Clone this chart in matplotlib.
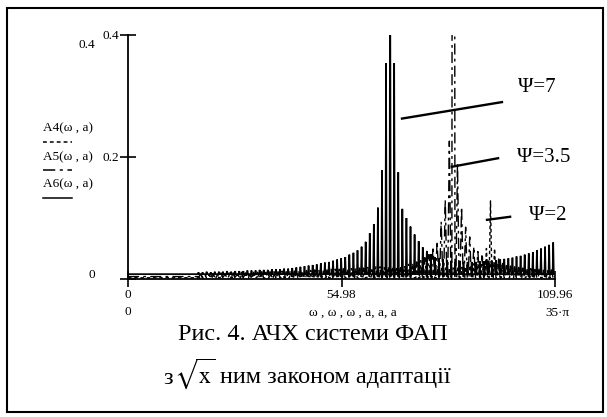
import numpy as np
import matplotlib
matplotlib.use("Agg")
import matplotlib.pyplot as plt
from matplotlib.patches import Rectangle

plt.rcParams["font.family"] = ["Liberation Serif", "DejaVu Serif"]
plt.rcParams["mathtext.fontset"] = "stix"

W, H = 607, 417

# ------------------------
# Data
# ------------------------

x_max = 109.96
x_ticks = [0, 54.98, 109.96]
x_tick_labels = ["0", "54.98", "109.96"]
y_ticks = [0, 0.2, 0.4]
y_tick_labels = ["", "0.2", "0.4"]

# A6 (solid, Psi=7): spike comb
a6_start, a6_step, a6_base = 18.15, 1.05, 0.008
a6_heights = [
    0.011, 0.011, 0.012, 0.011, 0.012, 0.012, 0.012, 0.013, 0.012, 0.013,
    0.013, 0.013, 0.014, 0.014, 0.014, 0.015, 0.015, 0.015, 0.016, 0.016,
    0.016, 0.017, 0.017, 0.018, 0.019, 0.020, 0.021, 0.022, 0.023, 0.024,
    0.026, 0.027, 0.028, 0.030, 0.032, 0.034, 0.036, 0.040, 0.043, 0.047,
    0.053, 0.061, 0.075, 0.090, 0.117, 0.178, 0.354,
    0.600,
    0.354, 0.175, 0.115, 0.100, 0.086, 0.073, 0.062, 0.052, 0.046, 0.041,
    0.036, 0.034, 0.032, 0.031, 0.030, 0.029, 0.029, 0.028, 0.028, 0.028,
    0.028, 0.029, 0.029, 0.030, 0.030, 0.031, 0.032, 0.033, 0.034, 0.035,
    0.037, 0.038, 0.040, 0.042, 0.044, 0.047, 0.050, 0.053, 0.056, 0.060,
]

# A5 (dash-dot, Psi=3.5)
a5_start, a5_step, a5_base = 18.7, 1.05, 0.004
a5_heights = [
    0.008, 0.009, 0.008, 0.009, 0.009, 0.010, 0.009, 0.010, 0.010, 0.010,
    0.011, 0.010, 0.011, 0.011, 0.011, 0.012, 0.011, 0.012, 0.012, 0.012,
    0.013, 0.012, 0.013, 0.013, 0.014, 0.013, 0.014, 0.014, 0.015, 0.014,
    0.015, 0.015, 0.016, 0.016, 0.016, 0.017, 0.017, 0.017, 0.018, 0.018,
    0.018, 0.019, 0.019, 0.020, 0.020, 0.020, 0.021, 0.021, 0.021, 0.022,
    0.022, 0.024, 0.026, 0.028, 0.030, 0.035, 0.040, 0.053, 0.062, 0.094,
    0.130, 0.226,
    3.000,
    0.190, 0.118, 0.085, 0.069, 0.053, 0.045, 0.038, 0.033, 0.030, 0.027,
    0.025, 0.023, 0.022, 0.021, 0.020, 0.019, 0.018, 0.018, 0.017, 0.017,
    0.016, 0.016, 0.015, 0.015,
]

# A4 (dotted, Psi=2)
a4_start, a4_step, a4_base = 18.8, 1.05, 0.002
a4_heights = [
    0.006, 0.006, 0.007, 0.006, 0.007, 0.007, 0.007, 0.008, 0.007, 0.008,
    0.008, 0.008, 0.009, 0.008, 0.009, 0.009, 0.009, 0.010, 0.009, 0.010,
    0.010, 0.010, 0.010, 0.011, 0.010, 0.011, 0.011, 0.011, 0.011, 0.012,
    0.011, 0.012, 0.012, 0.012, 0.012, 0.013, 0.012, 0.013, 0.013, 0.013,
    0.013, 0.014, 0.013, 0.014, 0.014, 0.014, 0.014, 0.015, 0.014, 0.015,
    0.015, 0.015, 0.015, 0.016, 0.016, 0.016, 0.016, 0.017, 0.017, 0.017,
    0.018, 0.018, 0.018, 0.019, 0.019,
    0.020, 0.022, 0.025, 0.030, 0.038, 0.050,
    0.128,
    0.050, 0.035, 0.028, 0.024, 0.021, 0.019, 0.018, 0.017, 0.016, 0.015,
    0.015, 0.014, 0.014, 0.013, 0.013,
]

psi_labels = ["\u03a8=7", "\u03a8=3.5", "\u03a8=2"]


def comb_trace(start, step, heights, base, half):
    xs = [0.0]
    ys = [base]
    for i, h in enumerate(heights):
        xc = start + step * i
        xs += [xc - half, xc, xc + half]
        ys += [base, h, base]
    xs.append(x_max)
    ys.append(base)
    return xs, ys


def fx(px):
    return px / W


def fy(py):
    return 1 - py / H


# ------------------------
# Figure
# ------------------------

fig = plt.figure(figsize=(W / 100, H / 100), dpi=100)
fig.patches.append(Rectangle((fx(7), fy(412)), (603 - 7) / W, (412 - 8) / H,
                             transform=fig.transFigure, fill=False,
                             lw=1.5, ec="black"))

ax = fig.add_axes([fx(128), fy(279), 427 / W, 244 / H])

xs, ys = comb_trace(a6_start, a6_step, a6_heights, a6_base, 0.16)
ax.plot(xs, ys, color="black", lw=1.2, solid_joinstyle="miter")

xs, ys = comb_trace(a5_start, a5_step, a5_heights, a5_base, 0.4)
ax.plot(xs, ys, color="black", lw=1.0, ls=(0, (8, 3, 2, 3)))

xs, ys = comb_trace(a4_start, a4_step, a4_heights, a4_base, 0.35)
ax.plot(xs, ys, color="black", lw=1.0, ls=(0, (2.5, 2)))

ax.set_xlim(0, x_max)
ax.set_ylim(0, 0.4)
ax.set_xticks(x_ticks)
ax.set_xticklabels(x_tick_labels)
ax.set_yticks(y_ticks)
ax.set_yticklabels(y_tick_labels)
ax.tick_params(axis="both", direction="inout", length=11, width=1.2,
               labelsize=9.5, pad=1)
ax.tick_params(axis="x", pad=2)
ax.spines["top"].set_visible(False)
ax.spines["right"].set_visible(False)
ax.spines["left"].set_linewidth(1.3)
ax.spines["bottom"].set_linewidth(1.3)
ax.patch.set_alpha(0)

# annotation lines
ax.plot([70.56, 96.3], [0.263, 0.290], color="black", lw=1.7, clip_on=False)
ax.plot([83.4, 95.3], [0.184, 0.198], color="black", lw=1.7, clip_on=False)
ax.plot([92.45, 98.4], [0.097, 0.102], color="black", lw=1.7, clip_on=False)

fig.text(fx(518), fy(88), psi_labels[0], fontsize=15, ha="left", va="center")
fig.text(fx(517), fy(158), psi_labels[1], fontsize=15, ha="left", va="center")
fig.text(fx(529), fy(215), psi_labels[2], fontsize=15, ha="left", va="center")

# Mathcad limit labels
fig.text(fx(87), fy(45), "0.4", fontsize=9.5, ha="center", va="center")
fig.text(fx(92), fy(275), "0", fontsize=9.5, ha="center", va="center")
fig.text(fx(128), fy(312), "0", fontsize=9.5, ha="center", va="center")
fig.text(fx(557), fy(313), "35\u00b7\u03c0", fontsize=9.5, ha="center", va="center")
fig.text(fx(353), fy(313), "\u03c9 , \u03c9 , \u03c9 , a, a, a", fontsize=9.5,
         ha="center", va="center")

# trace names on the left
names = ["A4(\u03c9 , a)", "A5(\u03c9 , a)", "A6(\u03c9 , a)"]
name_y = [128, 157, 184]
line_y = [142, 170, 198]
styles = [(0, (2.5, 2)), (0, (8, 3, 2, 3)), "-"]
for name, ny, ly, st in zip(names, name_y, line_y, styles):
    fig.text(fx(43), fy(ny), name, fontsize=9.5, ha="left", va="center")
    fig.add_artist(plt.Line2D([fx(43), fx(72)], [fy(ly), fy(ly)],
                              transform=fig.transFigure, color="black",
                              lw=1.1, ls=st))

# caption
fig.text(fx(313), fy(335), "Рис. 4. АЧХ системи ФАП", fontsize=17.5,
         ha="center", va="center")
fig.text(fx(168), fy(378), "з", fontsize=17.5, ha="center", va="center")
fig.text(fx(195), fy(374), r"$\sqrt{\mathrm{x}}$", fontsize=17,
         ha="center", va="center")
fig.text(fx(220), fy(378), "ним законом адаптації", fontsize=17.5,
         ha="left", va="center")

fig.savefig("out.png", dpi=100)
